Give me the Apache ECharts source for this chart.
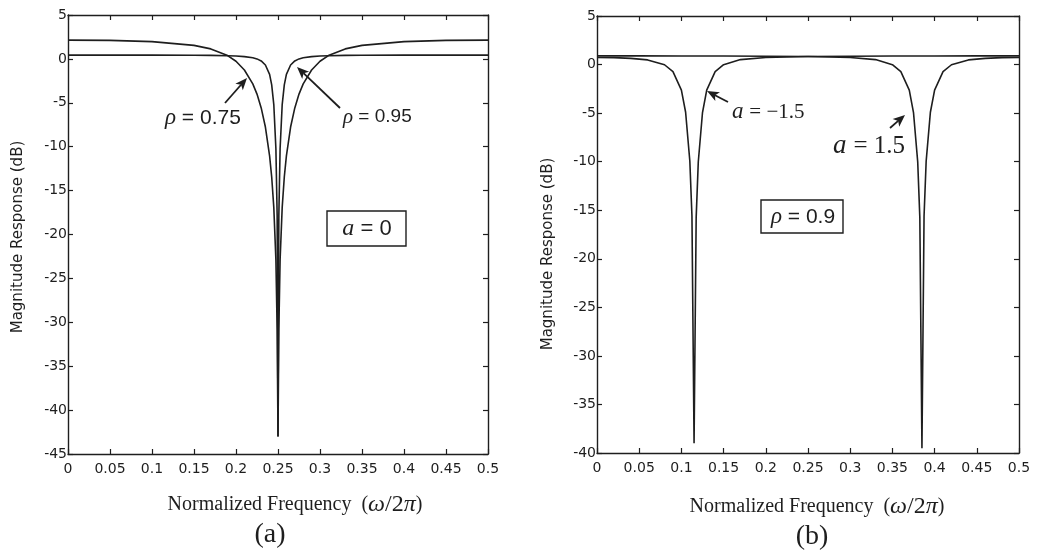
<!DOCTYPE html>
<html>
<head>
<meta charset="utf-8">
<script src="https://cdn.jsdelivr.net/npm/echarts@6/dist/echarts.min.js"></script>
<style>
  html, body { margin: 0; padding: 0; background: #fff; }
  #chart { width: 1041px; height: 554px; }
</style>
</head>
<body>
<div id="chart"></div>
<script>
// panel (a): a = 0, two pole radii
const freqA = [0, 0.05, 0.1, 0.15, 0.17, 0.19, 0.2, 0.21, 0.22, 0.225, 0.23, 0.235, 0.24, 0.2425, 0.245, 0.2475, 0.249,
  0.25,
  0.251, 0.2525, 0.255, 0.2575, 0.26, 0.265, 0.27, 0.275, 0.28, 0.29, 0.3, 0.31, 0.33, 0.35, 0.4, 0.45, 0.5];
const gainRho075 = [2.14, 2.11, 1.97, 1.54, 1.14, 0.38, -0.27, -1.26, -2.85, -4.01, -5.58, -7.76, -11.04, -13.45, -16.91, -22.89, -30.83,
  -43,
  -30.83, -22.89, -16.91, -13.45, -11.04, -7.76, -5.58, -4.01, -2.85, -1.26, -0.27, 0.38, 1.14, 1.54, 1.97, 2.11, 2.14];
const gainRho095 = [0.43, 0.43, 0.43, 0.41, 0.40, 0.36, 0.33, 0.26, 0.13, 0.0, -0.23, -0.69, -1.77, -2.95, -5.2, -10.23, -17.85,
  -43,
  -17.85, -10.23, -5.2, -2.95, -1.77, -0.69, -0.23, 0.0, 0.13, 0.26, 0.33, 0.36, 0.40, 0.41, 0.43, 0.43, 0.43];

// panel (b): rho = 0.9, a = -1.5 and a = 1.5
const freqB1 = [0, 0.02, 0.04, 0.06, 0.08, 0.09, 0.1, 0.105, 0.11, 0.1125, 0.115, 0.1175, 0.12, 0.125, 0.13, 0.14, 0.15, 0.17, 0.2, 0.25, 0.3, 0.35, 0.4, 0.45, 0.5];
const gainAm15 = [0.72, 0.71, 0.64, 0.48, -0.02, -0.73, -2.63, -4.91, -9.96, -15.6, -39, -15.76, -10.04, -4.94, -2.64, -0.73, -0.01, 0.51, 0.73, 0.83, 0.86, 0.88, 0.88, 0.89, 0.89];
const freqB2 = [0, 0.05, 0.1, 0.15, 0.2, 0.25, 0.3, 0.33, 0.35, 0.36, 0.37, 0.375, 0.38, 0.3825, 0.385, 0.3875, 0.39, 0.395, 0.4, 0.41, 0.42, 0.44, 0.46, 0.48, 0.5];
const gainAp15 = [0.89, 0.89, 0.88, 0.88, 0.86, 0.83, 0.73, 0.51, -0.01, -0.73, -2.64, -4.94, -10.04, -15.76, -39.5, -15.6, -9.96, -4.91, -2.63, -0.73, -0.02, 0.48, 0.64, 0.71, 0.72];

const yRangeA = [-45, 5];
const yRangeB = [-40, 5];

const ink = '#1e1e1e';
const sans = '"DejaVu Sans", "Liberation Sans", sans-serif';
const serif = '"Liberation Serif", "Times New Roman", serif';

const pairs = (xs, ys) => xs.map((x, i) => [x, ys[i]]);

function xAxes(gridIndex) {
  const base = {
    type: 'value', gridIndex, min: 0, max: 0.5, interval: 0.05,
    axisLine: { show: true, onZero: false, lineStyle: { color: ink, width: 1.4 } },
    axisTick: { show: true, inside: true, length: 5, lineStyle: { color: ink, width: 1.2 } },
    splitLine: { show: false }
  };
  return [
    { ...base, position: 'bottom', axisLabel: { color: ink, fontFamily: sans, fontSize: 14, margin: 8 } },
    { ...base, position: 'top', axisLabel: { show: false } }
  ];
}

function yAxes(gridIndex, range) {
  const base = {
    type: 'value', gridIndex, min: range[0], max: range[1], interval: 5,
    axisLine: { show: true, onZero: false, lineStyle: { color: ink, width: 1.4 } },
    axisTick: { show: true, inside: true, length: 5, lineStyle: { color: ink, width: 1.2 } },
    splitLine: { show: false }
  };
  return [
    { ...base, position: 'left', axisLabel: { color: ink, fontFamily: sans, fontSize: 14, margin: 1 } },
    { ...base, position: 'right', axisLabel: { show: false } }
  ];
}

function curve(name, xi, yi, data) {
  return {
    name, type: 'line', xAxisIndex: xi, yAxisIndex: yi, data,
    showSymbol: false, symbol: 'none', smooth: false, silent: true,
    lineStyle: { color: ink, width: 1.6 }
  };
}

function arrow(x1, y1, x2, y2) {
  const ang = Math.atan2(y2 - y1, x2 - x1);
  const c = Math.cos(ang), s = Math.sin(ang);
  const L = 12, W = 5;
  const bx = x2 - L * c, by = y2 - L * s;
  return [
    { type: 'line', shape: { x1, y1, x2: bx + 3 * c, y2: by + 3 * s }, style: { stroke: ink, lineWidth: 1.8 } },
    { type: 'polygon', shape: { points: [[x2, y2], [bx - s * W, by + c * W], [bx + 3 * c, by + 3 * s], [bx + s * W, by - c * W]] }, style: { fill: ink } }
  ];
}

function label(x, y, text, size, opts) {
  return {
    type: 'text', x, y,
    style: Object.assign({
      text, fill: ink, font: size + 'px "Liberation Sans", sans-serif', align: 'left', verticalAlign: 'middle',
      rich: {
        i: { fontFamily: serif, fontStyle: 'italic', fontSize: size + 2, fill: ink },
        s: { fontFamily: serif, fontSize: size, fill: ink }
      }
    }, opts || {})
  };
}

function boxRect(x, y, w, h) {
  return { type: 'rect', shape: { x, y, width: w, height: h }, style: { fill: '#fff', stroke: ink, lineWidth: 1.4 } };
}

function freqTitle(x, y) {
  return { type: 'text', x, y,
    style: { text: 'Normalized Frequency  ({i|ω}{s|/2}{i|π})', fill: ink, font: '20px ' + serif, align: 'center', verticalAlign: 'middle',
      rich: { i: { fontFamily: serif, fontStyle: 'italic', fontSize: 24, fill: ink }, s: { fontFamily: serif, fontSize: 24, fill: ink } } } };
}

const chart = echarts.init(document.getElementById('chart'), null, { renderer: 'canvas' });

const option = {
  backgroundColor: '#fff',
  animation: false,
  grid: [
    { left: 68, right: 553, top: 15, bottom: 100 },
    { left: 597, right: 22, top: 16, bottom: 101 }
  ],
  xAxis: [...xAxes(0), ...xAxes(1)],
  yAxis: [...yAxes(0, yRangeA), ...yAxes(1, yRangeB)],
  series: [
    curve('rho = 0.75', 0, 0, pairs(freqA, gainRho075)),
    curve('rho = 0.95', 0, 0, pairs(freqA, gainRho095)),
    curve('a = -1.5', 2, 2, pairs(freqB1, gainAm15)),
    curve('a = 1.5', 2, 2, pairs(freqB2, gainAp15))
  ],
  graphic: [
    // axis titles
    { type: 'text', x: 18, y: 237, rotation: Math.PI / 2,
      style: { text: 'Magnitude Response (dB)', fill: ink, font: '15px ' + sans, align: 'center', verticalAlign: 'middle' } },
    { type: 'text', x: 548, y: 254, rotation: Math.PI / 2,
      style: { text: 'Magnitude Response (dB)', fill: ink, font: '15px ' + sans, align: 'center', verticalAlign: 'middle' } },
    freqTitle(295, 505),
    freqTitle(817, 507),
    { type: 'text', x: 270, y: 535, style: { text: '(a)', fill: ink, font: '28px ' + serif, align: 'center', verticalAlign: 'middle' } },
    { type: 'text', x: 812, y: 537, style: { text: '(b)', fill: ink, font: '28px ' + serif, align: 'center', verticalAlign: 'middle' } },

    // panel (a) annotations
    ...arrow(225, 103, 247, 78),
    ...arrow(340, 108, 297, 67),
    label(165, 118, '{i|ρ} = 0.75', 21),
    label(343, 117, '{i|ρ} = 0.95', 19),
    boxRect(327, 211, 79, 35),
    label(367, 229, '{i|a} = 0', 22, { align: 'center' }),

    // panel (b) annotations
    ...arrow(728, 102, 707, 91),
    ...arrow(890, 128, 905, 115),
    label(732, 112, '{i|a} {s|= −1.5}', 21),
    label(833, 146, '{i|a} {s|= 1.5}', 25),
    boxRect(761, 200, 82, 33),
    label(803, 217, '{i|ρ} = 0.9', 21, { align: 'center' })
  ]
};

chart.setOption(option);
</script>
</body>
</html>
